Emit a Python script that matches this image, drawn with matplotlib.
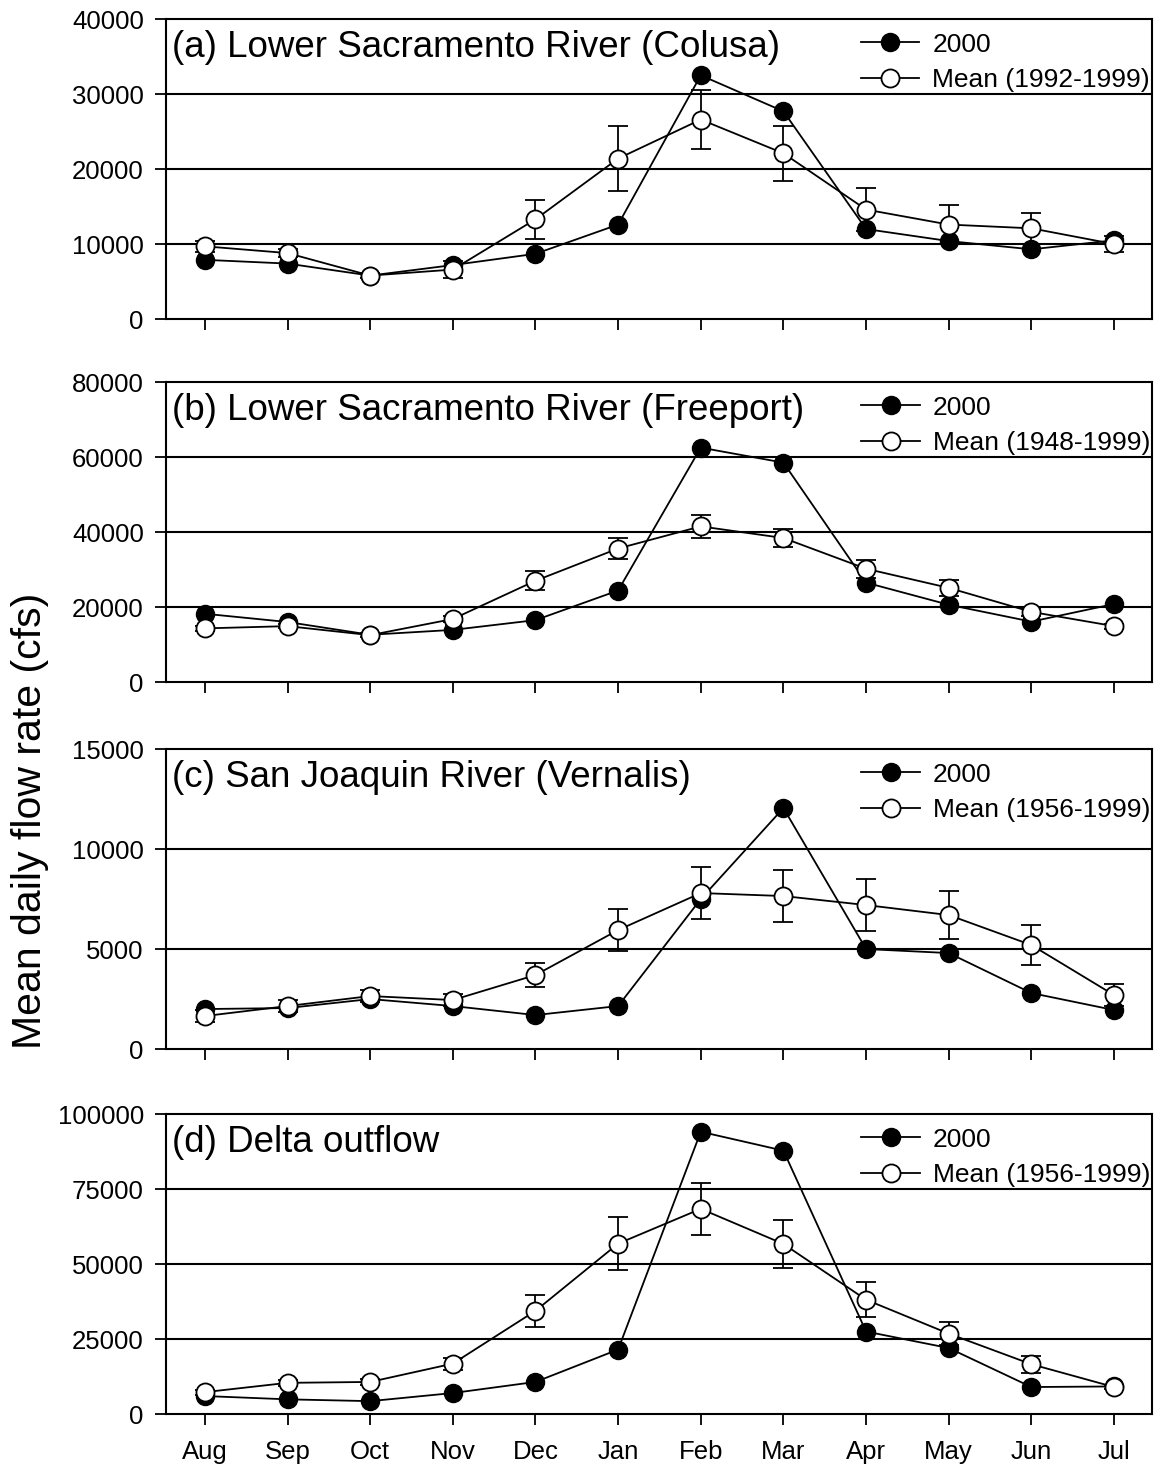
import numpy as np
import matplotlib
matplotlib.use('Agg')
import matplotlib.pyplot as plt

plt.rcParams['font.family'] = ['Liberation Sans', 'DejaVu Sans']

months = ['Aug', 'Sep', 'Oct', 'Nov', 'Dec', 'Jan', 'Feb', 'Mar', 'Apr', 'May', 'Jun', 'Jul']

# (a) Colusa
a_2000 = [7900, 7400, 5800, 7200, 8700, 12600, 32500, 27700, 12000, 10400, 9300, 10500]
a_mean = [9700, 8800, 5800, 6600, 13300, 21400, 26600, 22100, 14600, 12600, 12100, 10000]
a_err = [700, 500, 300, 1100, 2600, 4300, 3900, 3700, 2900, 2600, 2100, 1100]

# (b) Freeport
b_2000 = [18200, 16000, 12600, 13900, 16500, 24400, 62500, 58500, 26500, 20600, 16100, 20800]
b_mean = [14300, 14900, 12500, 16800, 27000, 35600, 41500, 38400, 30200, 25100, 18700, 14900]
b_err = [700, 600, 500, 900, 2500, 2800, 3100, 2400, 2400, 2100, 1000, 700]

# (c) Vernalis
c_2000 = [2000, 2050, 2500, 2150, 1700, 2150, 7500, 12050, 5000, 4800, 2800, 1950]
c_mean = [1650, 2150, 2650, 2450, 3700, 5950, 7800, 7650, 7200, 6700, 5200, 2700]
c_err = [300, 300, 300, 300, 580, 1050, 1280, 1300, 1280, 1200, 1000, 530]

# (d) Delta outflow
d_2000 = [6000, 4900, 4300, 7000, 10700, 21500, 94100, 87800, 27500, 22000, 9000, 9200]
d_mean = [7300, 10400, 10700, 16800, 34400, 56800, 68400, 56700, 38100, 26800, 16600, 9000]
d_err = [800, 900, 1000, 2000, 5300, 8900, 8600, 8000, 5900, 3900, 2800, 800]

titles = ['(a) Lower Sacramento River (Colusa)',
          '(b) Lower Sacramento River (Freeport)',
          '(c) San Joaquin River (Vernalis)',
          '(d) Delta outflow']
mean_labels = ['Mean (1992-1999)', 'Mean (1948-1999)', 'Mean (1956-1999)', 'Mean (1956-1999)']
ymax = [40000, 80000, 15000, 100000]
ystep = [10000, 20000, 5000, 25000]

series = [(a_2000, a_mean, a_err), (b_2000, b_mean, b_err),
          (c_2000, c_mean, c_err), (d_2000, d_mean, d_err)]

fig = plt.figure(figsize=(11.56, 14.67), dpi=100)
bottoms = [0.7825, 0.5351, 0.2849, 0.0361]
x = np.arange(len(months))

for i in range(4):
    ax = fig.add_axes([0.1436, bottoms[i], 0.853, 0.2045])
    s2000, smean, serr = series[i]
    ticks = np.arange(0, ymax[i] + 1, ystep[i])
    for t in ticks[1:-1]:
        ax.axhline(t, color='black', lw=1.5, zorder=0)
    ax.plot(x, s2000, '-o', color='black', lw=1.3, ms=13, mfc='black', mec='black',
            label='2000', zorder=3)
    ax.errorbar(x, smean, yerr=serr, fmt='none', ecolor='black', elinewidth=1.3,
                capsize=7, capthick=1.3, zorder=4)
    ax.plot(x, smean, '-o', color='black', lw=1.3, ms=13, mfc='white', mec='black',
            mew=1.3, label=mean_labels[i], zorder=5)
    ax.set_xlim(-0.47, 11.46)
    ax.set_ylim(0, ymax[i])
    ax.set_yticks(ticks)
    ax.set_xticks(x)
    if i == 3:
        ax.set_xticklabels(months)
    else:
        ax.set_xticklabels([])
    ax.tick_params(direction='out', length=8, width=1.3, labelsize=18.5, pad=8)
    ax.tick_params(axis='x', pad=11)
    for sp in ax.spines.values():
        sp.set_linewidth(1.5)
    ax.text(0.006, 0.905, titles[i], transform=ax.transAxes, fontsize=26.5,
            va='center', ha='left')
    ax.legend(loc='upper right', bbox_to_anchor=(0.998, 0.955), frameon=False,
              fontsize=19, handlelength=2.2, handletextpad=0.5, labelspacing=0.45,
              borderaxespad=0, borderpad=0)

fig.text(0.026, 1 - 821 / 1467, 'Mean daily flow rate (cfs)', rotation=90,
         fontsize=29.5, ha='center', va='center')

fig.savefig('out.png', dpi=100)
